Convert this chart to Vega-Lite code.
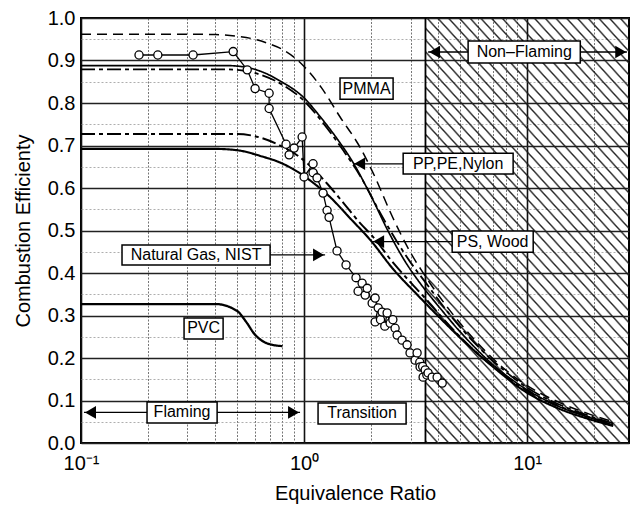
{
  "$schema": "https://vega.github.io/schema/vega-lite/v6.json",
  "width": 548,
  "height": 425,
  "autosize": {"type": "none"},
  "padding": {"left": 81, "top": 18, "right": 1, "bottom": 64},
  "config": {
    "view": {"stroke": "#000", "strokeWidth": 2},
    "font": "Liberation Sans",
    "text": {"font": "Liberation Sans"}
  },
  "datasets": {
    "curves": [
      {"s":"A","x":0.1,"y":0.962},{"s":"A","x":0.3,"y":0.962},{"s":"A","x":0.4,"y":0.961},{"s":"A","x":0.5,"y":0.957},{"s":"A","x":0.6,"y":0.95},{"s":"A","x":0.7,"y":0.939},{"s":"A","x":0.8,"y":0.926},{"s":"A","x":0.9,"y":0.908},{"s":"A","x":1.0,"y":0.886},{"s":"A","x":1.2,"y":0.835},{"s":"A","x":1.45,"y":0.767},{"s":"A","x":1.78,"y":0.696},{"s":"A","x":2.04,"y":0.635},{"s":"A","x":2.5,"y":0.53},{"s":"A","x":3.0,"y":0.448},{"s":"A","x":3.5,"y":0.392},{"s":"A","x":4.5,"y":0.312},{"s":"A","x":6,"y":0.235},{"s":"A","x":8,"y":0.172},{"s":"A","x":10,"y":0.135},{"s":"A","x":14,"y":0.095},{"s":"A","x":19,"y":0.068},{"s":"A","x":24.3,"y":0.05},
      {"s":"B","x":0.1,"y":0.888},{"s":"B","x":0.45,"y":0.888},{"s":"B","x":0.55,"y":0.884},{"s":"B","x":0.65,"y":0.873},{"s":"B","x":0.78,"y":0.852},{"s":"B","x":1.0,"y":0.812},{"s":"B","x":1.18,"y":0.768},{"s":"B","x":1.45,"y":0.706},{"s":"B","x":1.64,"y":0.664},{"s":"B","x":2.0,"y":0.58},{"s":"B","x":2.4,"y":0.495},{"s":"B","x":2.8,"y":0.432},{"s":"B","x":3.4,"y":0.368},{"s":"B","x":4.0,"y":0.322},{"s":"B","x":5,"y":0.262},{"s":"B","x":7,"y":0.185},{"s":"B","x":10,"y":0.125},{"s":"B","x":14,"y":0.085},{"s":"B","x":19,"y":0.06},{"s":"B","x":24.3,"y":0.042},
      {"s":"C","x":0.1,"y":0.879},{"s":"C","x":0.45,"y":0.879},{"s":"C","x":0.55,"y":0.875},{"s":"C","x":0.65,"y":0.865},{"s":"C","x":0.8,"y":0.843},{"s":"C","x":1.0,"y":0.805},{"s":"C","x":1.2,"y":0.757},{"s":"C","x":1.5,"y":0.688},{"s":"C","x":1.8,"y":0.625},{"s":"C","x":2.2,"y":0.54},{"s":"C","x":2.6,"y":0.475},{"s":"C","x":3.0,"y":0.425},{"s":"C","x":3.5,"y":0.378},{"s":"C","x":4.5,"y":0.302},{"s":"C","x":6,"y":0.228},{"s":"C","x":8,"y":0.168},{"s":"C","x":10,"y":0.13},{"s":"C","x":14,"y":0.09},{"s":"C","x":19,"y":0.064},{"s":"C","x":24.3,"y":0.046},
      {"s":"D","x":0.1,"y":0.727},{"s":"D","x":0.5,"y":0.727},{"s":"D","x":0.6,"y":0.722},{"s":"D","x":0.76,"y":0.703},{"s":"D","x":0.96,"y":0.672},{"s":"D","x":1.1,"y":0.645},{"s":"D","x":1.27,"y":0.61},{"s":"D","x":1.5,"y":0.565},{"s":"D","x":1.8,"y":0.515},{"s":"D","x":2.0,"y":0.49},{"s":"D","x":2.5,"y":0.425},{"s":"D","x":3.0,"y":0.378},{"s":"D","x":3.5,"y":0.34},{"s":"D","x":4.5,"y":0.275},{"s":"D","x":6,"y":0.21},{"s":"D","x":8,"y":0.158},{"s":"D","x":10,"y":0.122},{"s":"D","x":14,"y":0.086},{"s":"D","x":19,"y":0.061},{"s":"D","x":24.3,"y":0.045},
      {"s":"E","x":0.1,"y":0.692},{"s":"E","x":0.4,"y":0.692},{"s":"E","x":0.5,"y":0.689},{"s":"E","x":0.65,"y":0.674},{"s":"E","x":0.78,"y":0.66},{"s":"E","x":0.93,"y":0.639},{"s":"E","x":1.1,"y":0.612},{"s":"E","x":1.3,"y":0.58},{"s":"E","x":1.6,"y":0.53},{"s":"E","x":2.0,"y":0.475},{"s":"E","x":2.5,"y":0.41},{"s":"E","x":3.2,"y":0.35},{"s":"E","x":4.0,"y":0.298},{"s":"E","x":5,"y":0.248},{"s":"E","x":7,"y":0.18},{"s":"E","x":10,"y":0.118},{"s":"E","x":14,"y":0.08},{"s":"E","x":19,"y":0.056},{"s":"E","x":24.3,"y":0.04},
      {"s":"PVC","x":0.1,"y":0.327},{"s":"PVC","x":0.4,"y":0.327},{"s":"PVC","x":0.5,"y":0.311},{"s":"PVC","x":0.55,"y":0.285},{"s":"PVC","x":0.6,"y":0.256},{"s":"PVC","x":0.66,"y":0.238},{"s":"PVC","x":0.72,"y":0.231},{"s":"PVC","x":0.8,"y":0.228}
    ],
    "nist": [
      {"o":1,"x":0.182,"y":0.913},{"o":2,"x":0.221,"y":0.913},{"o":3,"x":0.318,"y":0.913},{"o":4,"x":0.481,"y":0.921},{"o":5,"x":0.556,"y":0.878},{"o":6,"x":0.603,"y":0.834},{"o":7,"x":0.697,"y":0.823},{"o":8,"x":0.697,"y":0.787},{"o":9,"x":0.83,"y":0.703},{"o":10,"x":0.857,"y":0.678},{"o":11,"x":0.902,"y":0.694},{"o":12,"x":0.98,"y":0.72},{"o":13,"x":1.0,"y":0.626},{"o":14,"x":1.097,"y":0.657},{"o":15,"x":1.097,"y":0.636},{"o":16,"x":1.143,"y":0.624},{"o":17,"x":1.216,"y":0.588},{"o":18,"x":1.268,"y":0.547},{"o":19,"x":1.294,"y":0.531},{"o":20,"x":1.405,"y":0.452},{"o":21,"x":1.542,"y":0.419},{"o":22,"x":1.709,"y":0.389},{"o":23,"x":1.82,"y":0.376},{"o":24,"x":1.746,"y":0.357},{"o":25,"x":1.878,"y":0.348},{"o":26,"x":1.918,"y":0.364},{"o":27,"x":2.019,"y":0.329},{"o":28,"x":2.082,"y":0.341},{"o":29,"x":2.148,"y":0.318},{"o":30,"x":2.082,"y":0.285},{"o":31,"x":2.2,"y":0.29},{"o":32,"x":2.238,"y":0.308},{"o":33,"x":2.3,"y":0.275},{"o":34,"x":2.356,"y":0.306},{"o":35,"x":2.431,"y":0.282},{"o":36,"x":2.5,"y":0.29},{"o":37,"x":2.558,"y":0.27},{"o":38,"x":2.612,"y":0.254},{"o":39,"x":2.748,"y":0.242},{"o":40,"x":2.895,"y":0.231},{"o":41,"x":2.985,"y":0.212},{"o":42,"x":3.144,"y":0.195},{"o":43,"x":3.21,"y":0.212},{"o":44,"x":3.3,"y":0.19},{"o":45,"x":3.311,"y":0.179},{"o":46,"x":3.4,"y":0.18},{"o":47,"x":3.416,"y":0.155},{"o":48,"x":3.49,"y":0.172},{"o":49,"x":3.55,"y":0.16},{"o":50,"x":3.597,"y":0.165},{"o":51,"x":3.751,"y":0.155},{"o":52,"x":3.948,"y":0.155},{"o":53,"x":4.16,"y":0.141}
    ],
    "boxes": [
      {"label":"Flaming","x":0.1977,"x2":0.4075,"y":0.047,"y2":0.0965,"cx":0.2838,"cy":0.072},
      {"label":"Transition","x":1.155,"x2":2.866,"y":0.045,"y2":0.094,"cx":1.819,"cy":0.0695},
      {"label":"Non–Flaming","x":5.435,"x2":17.3,"y":0.894,"y2":0.946,"cx":9.7,"cy":0.92},
      {"label":"PMMA","x":1.449,"x2":2.506,"y":0.809,"y2":0.859,"cx":1.906,"cy":0.834},
      {"label":"PP,PE,Nylon","x":2.78,"x2":8.65,"y":0.633,"y2":0.682,"cx":4.904,"cy":0.657},
      {"label":"PS, Wood","x":4.61,"x2":10.64,"y":0.449,"y2":0.499,"cx":7.0,"cy":0.474},
      {"label":"Natural Gas, NIST","x":0.1527,"x2":0.704,"y":0.419,"y2":0.466,"cx":0.3279,"cy":0.4425},
      {"label":"PVC","x":0.2897,"x2":0.4335,"y":0.245,"y2":0.294,"cx":0.3544,"cy":0.2695}
    ],
    "shafts": [
      {"x":0.1031,"x2":0.1977,"y":0.072},
      {"x":0.4075,"x2":0.959,"y":0.072},
      {"x":3.597,"x2":5.435,"y":0.92},
      {"x":17.3,"x2":28.0,"y":0.92},
      {"x":1.66,"x2":2.78,"y":0.657},
      {"x":2.019,"x2":4.61,"y":0.474},
      {"x":0.704,"x2":1.242,"y":0.4425}
    ],
    "heads": [
      {"x":0.1103,"y":0.072,"dir":"left"},
      {"x":0.897,"y":0.072,"dir":"right"},
      {"x":3.846,"y":0.92,"dir":"left"},
      {"x":26.26,"y":0.92,"dir":"right"},
      {"x":1.774,"y":0.657,"dir":"left"},
      {"x":2.159,"y":0.474,"dir":"left"},
      {"x":1.161,"y":0.4425,"dir":"right"}
    ]
  },
  "encoding": {
    "x": {
      "field": "x", "type": "quantitative",
      "scale": {"type": "log", "domain": [0.1, 28.6], "nice": false},
      "axis": {
        "title": "Equivalence Ratio",
        "values": [0.1,0.2,0.3,0.4,0.5,0.6,0.7,0.8,0.9,1,2,3,4,5,6,7,8,9,10,20],
        "labelExpr": "datum.value==0.1?'10⁻¹':datum.value==1?'10⁰':datum.value==10?'10¹':''",
        "ticks": false, "domain": false,
        "labelPadding": 10, "labelFontSize": 20, "labelColor": "#000", "labelFont": "Liberation Sans",
        "labelOverlap": false, "labelBound": false, "labelFlush": false,
        "titleFontSize": 20, "titleFontWeight": "normal", "titleColor": "#000", "titleFont": "Liberation Sans", "titlePadding": 10,
        "grid": true,
        "gridColor": {"condition": {"test": "datum.value==0.1||datum.value==1||datum.value==10", "value": "#111"}, "value": "#666"},
        "gridWidth": {"condition": {"test": "datum.value==0.1||datum.value==1||datum.value==10", "value": 1.6}, "value": 0.9},
        "gridDash": {"condition": {"test": "datum.value==0.1||datum.value==1||datum.value==10", "value": []}, "value": [2, 1.5]}
      }
    },
    "y": {
      "field": "y", "type": "quantitative",
      "scale": {"domain": [0, 1], "nice": false},
      "axis": {
        "title": "Combustion Efficienty",
        "values": [0,0.05,0.1,0.15,0.2,0.25,0.3,0.35,0.4,0.45,0.5,0.55,0.6,0.65,0.7,0.75,0.8,0.85,0.9,0.95,1],
        "labelExpr": "abs(datum.value*10-round(datum.value*10))<0.001?format(datum.value,'.1f'):''",
        "ticks": false, "domain": false,
        "labelPadding": 6, "labelFontSize": 20, "labelColor": "#000", "labelFont": "Liberation Sans",
        "labelOverlap": false, "labelBound": false, "labelFlush": false,
        "titleFontSize": 20, "titleFontWeight": "normal", "titleColor": "#000", "titleFont": "Liberation Sans", "titlePadding": 14,
        "grid": true,
        "gridColor": {"condition": {"test": "abs(datum.value*10-round(datum.value*10))<0.001", "value": "#222"}, "value": "#999"},
        "gridWidth": {"condition": {"test": "abs(datum.value*10-round(datum.value*10))<0.001", "value": 1.5}, "value": 0.8},
        "gridDash": {"condition": {"test": "abs(datum.value*10-round(datum.value*10))<0.001", "value": []}, "value": [2, 2]}
      }
    }
  },
  "layer": [
    {
      "data": {"values": [{"x": 3.5, "x2": 28.6, "y": 0, "y2": 1}]},
      "mark": {"type": "rect", "fill": {"gradient": "linear", "x1": 0, "y1": 1, "x2": 0.6295, "y2": -0.1952, "stops": [
        {"offset":0,"color":"rgba(0,0,0,0)"},{"offset":0.003,"color":"#222"},{"offset":0.006,"color":"rgba(0,0,0,0)"},
        {"offset":0.0182,"color":"rgba(0,0,0,0)"},{"offset":0.0212,"color":"#222"},{"offset":0.0242,"color":"rgba(0,0,0,0)"},
        {"offset":0.0364,"color":"rgba(0,0,0,0)"},{"offset":0.0394,"color":"#222"},{"offset":0.0424,"color":"rgba(0,0,0,0)"},
        {"offset":0.0545,"color":"rgba(0,0,0,0)"},{"offset":0.0575,"color":"#222"},{"offset":0.0605,"color":"rgba(0,0,0,0)"},
        {"offset":0.0727,"color":"rgba(0,0,0,0)"},{"offset":0.0757,"color":"#222"},{"offset":0.0787,"color":"rgba(0,0,0,0)"},
        {"offset":0.0909,"color":"rgba(0,0,0,0)"},{"offset":0.0939,"color":"#222"},{"offset":0.0969,"color":"rgba(0,0,0,0)"},
        {"offset":0.1091,"color":"rgba(0,0,0,0)"},{"offset":0.1121,"color":"#222"},{"offset":0.1151,"color":"rgba(0,0,0,0)"},
        {"offset":0.1273,"color":"rgba(0,0,0,0)"},{"offset":0.1303,"color":"#222"},{"offset":0.1333,"color":"rgba(0,0,0,0)"},
        {"offset":0.1455,"color":"rgba(0,0,0,0)"},{"offset":0.1485,"color":"#222"},{"offset":0.1515,"color":"rgba(0,0,0,0)"},
        {"offset":0.1636,"color":"rgba(0,0,0,0)"},{"offset":0.1666,"color":"#222"},{"offset":0.1696,"color":"rgba(0,0,0,0)"},
        {"offset":0.1818,"color":"rgba(0,0,0,0)"},{"offset":0.1848,"color":"#222"},{"offset":0.1878,"color":"rgba(0,0,0,0)"},
        {"offset":0.2,"color":"rgba(0,0,0,0)"},{"offset":0.203,"color":"#222"},{"offset":0.206,"color":"rgba(0,0,0,0)"},
        {"offset":0.2182,"color":"rgba(0,0,0,0)"},{"offset":0.2212,"color":"#222"},{"offset":0.2242,"color":"rgba(0,0,0,0)"},
        {"offset":0.2364,"color":"rgba(0,0,0,0)"},{"offset":0.2394,"color":"#222"},{"offset":0.2424,"color":"rgba(0,0,0,0)"},
        {"offset":0.2545,"color":"rgba(0,0,0,0)"},{"offset":0.2575,"color":"#222"},{"offset":0.2605,"color":"rgba(0,0,0,0)"},
        {"offset":0.2727,"color":"rgba(0,0,0,0)"},{"offset":0.2757,"color":"#222"},{"offset":0.2787,"color":"rgba(0,0,0,0)"},
        {"offset":0.2909,"color":"rgba(0,0,0,0)"},{"offset":0.2939,"color":"#222"},{"offset":0.2969,"color":"rgba(0,0,0,0)"},
        {"offset":0.3091,"color":"rgba(0,0,0,0)"},{"offset":0.3121,"color":"#222"},{"offset":0.3151,"color":"rgba(0,0,0,0)"},
        {"offset":0.3273,"color":"rgba(0,0,0,0)"},{"offset":0.3303,"color":"#222"},{"offset":0.3333,"color":"rgba(0,0,0,0)"},
        {"offset":0.3455,"color":"rgba(0,0,0,0)"},{"offset":0.3485,"color":"#222"},{"offset":0.3515,"color":"rgba(0,0,0,0)"},
        {"offset":0.3636,"color":"rgba(0,0,0,0)"},{"offset":0.3666,"color":"#222"},{"offset":0.3696,"color":"rgba(0,0,0,0)"},
        {"offset":0.3818,"color":"rgba(0,0,0,0)"},{"offset":0.3848,"color":"#222"},{"offset":0.3878,"color":"rgba(0,0,0,0)"},
        {"offset":0.4,"color":"rgba(0,0,0,0)"},{"offset":0.403,"color":"#222"},{"offset":0.406,"color":"rgba(0,0,0,0)"},
        {"offset":0.4182,"color":"rgba(0,0,0,0)"},{"offset":0.4212,"color":"#222"},{"offset":0.4242,"color":"rgba(0,0,0,0)"},
        {"offset":0.4364,"color":"rgba(0,0,0,0)"},{"offset":0.4394,"color":"#222"},{"offset":0.4424,"color":"rgba(0,0,0,0)"},
        {"offset":0.4545,"color":"rgba(0,0,0,0)"},{"offset":0.4575,"color":"#222"},{"offset":0.4605,"color":"rgba(0,0,0,0)"},
        {"offset":0.4727,"color":"rgba(0,0,0,0)"},{"offset":0.4757,"color":"#222"},{"offset":0.4787,"color":"rgba(0,0,0,0)"},
        {"offset":0.4909,"color":"rgba(0,0,0,0)"},{"offset":0.4939,"color":"#222"},{"offset":0.4969,"color":"rgba(0,0,0,0)"},
        {"offset":0.5091,"color":"rgba(0,0,0,0)"},{"offset":0.5121,"color":"#222"},{"offset":0.5151,"color":"rgba(0,0,0,0)"},
        {"offset":0.5273,"color":"rgba(0,0,0,0)"},{"offset":0.5303,"color":"#222"},{"offset":0.5333,"color":"rgba(0,0,0,0)"},
        {"offset":0.5455,"color":"rgba(0,0,0,0)"},{"offset":0.5485,"color":"#222"},{"offset":0.5515,"color":"rgba(0,0,0,0)"},
        {"offset":0.5636,"color":"rgba(0,0,0,0)"},{"offset":0.5666,"color":"#222"},{"offset":0.5696,"color":"rgba(0,0,0,0)"},
        {"offset":0.5818,"color":"rgba(0,0,0,0)"},{"offset":0.5848,"color":"#222"},{"offset":0.5878,"color":"rgba(0,0,0,0)"},
        {"offset":0.6,"color":"rgba(0,0,0,0)"},{"offset":0.603,"color":"#222"},{"offset":0.606,"color":"rgba(0,0,0,0)"},
        {"offset":0.6182,"color":"rgba(0,0,0,0)"},{"offset":0.6212,"color":"#222"},{"offset":0.6242,"color":"rgba(0,0,0,0)"},
        {"offset":0.6364,"color":"rgba(0,0,0,0)"},{"offset":0.6394,"color":"#222"},{"offset":0.6424,"color":"rgba(0,0,0,0)"},
        {"offset":0.6545,"color":"rgba(0,0,0,0)"},{"offset":0.6575,"color":"#222"},{"offset":0.6605,"color":"rgba(0,0,0,0)"},
        {"offset":0.6727,"color":"rgba(0,0,0,0)"},{"offset":0.6757,"color":"#222"},{"offset":0.6787,"color":"rgba(0,0,0,0)"},
        {"offset":0.6909,"color":"rgba(0,0,0,0)"},{"offset":0.6939,"color":"#222"},{"offset":0.6969,"color":"rgba(0,0,0,0)"},
        {"offset":0.7091,"color":"rgba(0,0,0,0)"},{"offset":0.7121,"color":"#222"},{"offset":0.7151,"color":"rgba(0,0,0,0)"},
        {"offset":0.7273,"color":"rgba(0,0,0,0)"},{"offset":0.7303,"color":"#222"},{"offset":0.7333,"color":"rgba(0,0,0,0)"},
        {"offset":0.7455,"color":"rgba(0,0,0,0)"},{"offset":0.7485,"color":"#222"},{"offset":0.7515,"color":"rgba(0,0,0,0)"},
        {"offset":0.7636,"color":"rgba(0,0,0,0)"},{"offset":0.7666,"color":"#222"},{"offset":0.7696,"color":"rgba(0,0,0,0)"},
        {"offset":0.7818,"color":"rgba(0,0,0,0)"},{"offset":0.7848,"color":"#222"},{"offset":0.7878,"color":"rgba(0,0,0,0)"},
        {"offset":0.8,"color":"rgba(0,0,0,0)"},{"offset":0.803,"color":"#222"},{"offset":0.806,"color":"rgba(0,0,0,0)"},
        {"offset":0.8182,"color":"rgba(0,0,0,0)"},{"offset":0.8212,"color":"#222"},{"offset":0.8242,"color":"rgba(0,0,0,0)"},
        {"offset":0.8364,"color":"rgba(0,0,0,0)"},{"offset":0.8394,"color":"#222"},{"offset":0.8424,"color":"rgba(0,0,0,0)"},
        {"offset":0.8545,"color":"rgba(0,0,0,0)"},{"offset":0.8575,"color":"#222"},{"offset":0.8605,"color":"rgba(0,0,0,0)"},
        {"offset":0.8727,"color":"rgba(0,0,0,0)"},{"offset":0.8757,"color":"#222"},{"offset":0.8787,"color":"rgba(0,0,0,0)"},
        {"offset":0.8909,"color":"rgba(0,0,0,0)"},{"offset":0.8939,"color":"#222"},{"offset":0.8969,"color":"rgba(0,0,0,0)"},
        {"offset":0.9091,"color":"rgba(0,0,0,0)"},{"offset":0.9121,"color":"#222"},{"offset":0.9151,"color":"rgba(0,0,0,0)"},
        {"offset":0.9273,"color":"rgba(0,0,0,0)"},{"offset":0.9303,"color":"#222"},{"offset":0.9333,"color":"rgba(0,0,0,0)"},
        {"offset":0.9455,"color":"rgba(0,0,0,0)"},{"offset":0.9485,"color":"#222"},{"offset":0.9515,"color":"rgba(0,0,0,0)"},
        {"offset":0.9636,"color":"rgba(0,0,0,0)"},{"offset":0.9666,"color":"#222"},{"offset":0.9696,"color":"rgba(0,0,0,0)"},
        {"offset":0.9818,"color":"rgba(0,0,0,0)"},{"offset":0.9848,"color":"#222"},{"offset":0.9878,"color":"rgba(0,0,0,0)"},
        {"offset":1,"color":"rgba(0,0,0,0)"}
      ]}},
      "encoding": {"x2": {"field": "x2"}, "y2": {"field": "y2"}}
    },
    {
      "data": {"values": [{"x": 3.5, "y": 0, "y2": 1}]},
      "mark": {"type": "rule", "color": "#000", "strokeWidth": 1.8},
      "encoding": {"y2": {"field": "y2"}}
    },
    {
      "data": {"name": "curves"},
      "mark": {"type": "line", "color": "#000", "interpolate": "monotone"},
      "encoding": {
        "detail": {"field": "s", "type": "nominal"},
        "strokeDash": {"field": "s", "type": "nominal", "legend": null,
          "scale": {"domain": ["A","B","C","D","E","PVC"], "range": [[10,6],[1,0],[14,4,4,4],[14,4,4,4],[1,0],[1,0]]}},
        "strokeWidth": {"field": "s", "type": "nominal", "legend": null,
          "scale": {"domain": ["A","B","C","D","E","PVC"], "range": [1.5,2.3,1.6,1.6,1.4,1.3]}}
      }
    },
    {
      "data": {"name": "nist"},
      "mark": {"type": "line", "color": "#000", "strokeWidth": 1.3},
      "encoding": {"order": {"field": "o", "type": "quantitative"}}
    },
    {
      "data": {"name": "nist"},
      "mark": {"type": "point", "shape": "circle", "filled": true, "fill": "#fff", "stroke": "#000", "strokeWidth": 1.3, "size": 66, "opacity": 1}
    },
    {
      "data": {"name": "shafts"},
      "mark": {"type": "rule", "color": "#000", "strokeWidth": 1.3},
      "encoding": {"x2": {"field": "x2"}}
    },
    {
      "data": {"name": "heads"},
      "mark": {"type": "point", "filled": true, "color": "#000", "opacity": 1, "size": 160},
      "encoding": {"shape": {"field": "dir", "type": "nominal", "legend": null,
        "scale": {"domain": ["left","right"], "range": ["triangle-left","triangle-right"]}}}
    },
    {
      "data": {"name": "boxes"},
      "mark": {"type": "rect", "fill": "#fff", "stroke": "#000", "strokeWidth": 1.5},
      "encoding": {"x2": {"field": "x2"}, "y2": {"field": "y2"}}
    },
    {
      "data": {"name": "boxes"},
      "mark": {"type": "text", "fontSize": 16, "color": "#000", "align": "center", "baseline": "middle", "font": "Liberation Sans"},
      "encoding": {
        "x": {"field": "cx", "type": "quantitative"},
        "y": {"field": "cy", "type": "quantitative"},
        "text": {"field": "label", "type": "nominal"}
      }
    }
  ]
}
